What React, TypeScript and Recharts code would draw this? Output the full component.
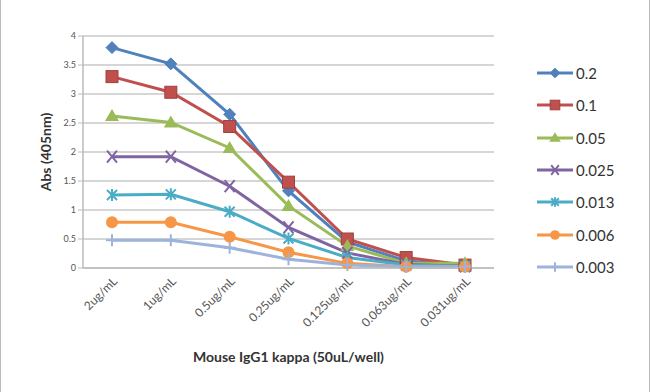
import React from 'react';
import { LineChart, Line, XAxis, YAxis, CartesianGrid } from 'recharts';

const categories = ['2ug/mL', '1ug/mL', '0.5ug/mL', '0.25ug/mL', '0.125ug/mL', '0.063ug/mL', '0.031ug/mL'];
const s02 = [3.8, 3.52, 2.65, 1.33, 0.45, 0.12, 0.05];
const s01 = [3.3, 3.03, 2.44, 1.48, 0.5, 0.18, 0.05];
const s005 = [2.62, 2.51, 2.07, 1.07, 0.38, 0.08, 0.08];
const s0025 = [1.92, 1.92, 1.41, 0.7, 0.26, 0.06, 0.03];
const s0013 = [1.26, 1.27, 0.97, 0.51, 0.18, 0.05, 0.03];
const s0006 = [0.79, 0.79, 0.54, 0.27, 0.08, 0.02, 0.02];
const s0003 = [0.48, 0.48, 0.35, 0.15, 0.05, 0.02, 0.02];
const yTicks = [0, 0.5, 1, 1.5, 2, 2.5, 3, 3.5, 4];

const seriesList = [
  { key: '0.2', values: s02, color: '#4F81BD', marker: 'diamond' },
  { key: '0.1', values: s01, color: '#C0504D', marker: 'square' },
  { key: '0.05', values: s005, color: '#9BBB59', marker: 'triangle' },
  { key: '0.025', values: s0025, color: '#8064A2', marker: 'x' },
  { key: '0.013', values: s0013, color: '#4BACC6', marker: 'star' },
  { key: '0.006', values: s0006, color: '#F79646', marker: 'circle' },
  { key: '0.003', values: s0003, color: '#9DB3DC', marker: 'plus' },
];

const data = categories.map((c, i) => {
  const row: any = { name: c };
  seriesList.forEach(s => { row[s.key] = s.values[i]; });
  return row;
});

const drawMarker = (marker: string, color: string, cx: number, cy: number, key?: any, k = 1) => {
  const a = 6 * k;
  switch (marker) {
    case 'diamond':
      return <path key={key} d={`M${cx},${cy - a}L${cx + a},${cy}L${cx},${cy + a}L${cx - a},${cy}Z`} fill={color} stroke={color} />;
    case 'square':
      return <rect key={key} x={cx - a} y={cy - a} width={2 * a} height={2 * a} fill={color} stroke="#A0403D" />;
    case 'triangle':
      return <path key={key} d={`M${cx},${cy - a - 1}L${cx + a + 1},${cy + a - 1}L${cx - a - 1},${cy + a - 1}Z`} fill={color} />;
    case 'x':
      return <path key={key} d={`M${cx - a + 1},${cy - a}L${cx + a - 1},${cy + a}M${cx + a - 1},${cy - a}L${cx - a + 1},${cy + a}`} stroke={color} strokeWidth={2} fill="none" />;
    case 'star':
      return <path key={key} d={`M${cx - a + 1},${cy - a + 1}L${cx + a - 1},${cy + a - 1}M${cx + a - 1},${cy - a + 1}L${cx - a + 1},${cy + a - 1}M${cx},${cy - a}L${cx},${cy + a}`} stroke={color} strokeWidth={2} fill="none" />;
    case 'circle':
      return <circle key={key} cx={cx} cy={cy} r={a} fill={color} />;
    case 'plus':
      return <path key={key} d={`M${cx},${cy - a}L${cx},${cy + a}M${cx - a},${cy}L${cx + a},${cy}`} stroke={color} strokeWidth={2} fill="none" />;
    default:
      return null;
  }
};

const font = 'Lato, "Open Sans", sans-serif';

export default function App() {
  return (
    <div style={{ position: 'absolute', left: 0, top: 0, width: 650, height: 392, background: '#fff', borderLeft: '1px solid #bbb', borderRight: '1px solid #bbb', boxSizing: 'border-box' }}>
      <LineChart width={648} height={392} data={data} margin={{ top: 36, right: 155, bottom: 24, left: 42 }}>
        <CartesianGrid vertical={false} stroke="#C8C8C8" strokeWidth={1.5} />
        <XAxis
          dataKey="name"
          interval={0}
          padding={{ left: 29, right: 29 }}
          height={100}
          angle={-45}
          textAnchor="end"
          tick={{ fontSize: 12, fill: '#555', fontFamily: font }}
          tickLine={false}
          axisLine={{ stroke: '#BBB', strokeWidth: 1.5 }}
          label={{ value: 'Mouse IgG1 kappa (50uL/well)', position: 'insideBottom', offset: 6, style: { fontSize: 14, fontWeight: 'bold', fill: '#333', fontFamily: font } }}
        />
        <YAxis
          domain={[0, 4]}
          ticks={yTicks}
          width={40}
          tickSize={5}
          tick={{ fontSize: 9, fill: '#555', fontFamily: font }}
          tickLine={{ stroke: '#BBB' }}
          axisLine={{ stroke: '#BBB', strokeWidth: 1.5 }}
          label={{ value: 'Abs (405nm)', angle: -90, position: 'insideLeft', offset: 3, style: { textAnchor: 'middle', fontSize: 14, fontWeight: 'bold', fill: '#333', fontFamily: font } }}
        />
        {seriesList.map(s => (
          <Line
            key={s.key}
            dataKey={s.key}
            stroke={s.color}
            strokeWidth={3}
            isAnimationActive={false}
            dot={(p: any) => drawMarker(s.marker, s.color, p.cx, p.cy, p.index)}
            activeDot={false}
          />
        ))}
      </LineChart>
      <div style={{ position: 'absolute', left: 534, top: 57, fontFamily: font, fontSize: 15, color: '#333' }}>
        {seriesList.map(s => (
          <div key={s.key} style={{ display: 'flex', alignItems: 'center', height: 32.3 }}>
            <svg width={40} height={16}>
              <line x1={2} y1={8} x2={38} y2={8} stroke={s.color} strokeWidth={3} />
              {drawMarker(s.marker, s.color, 20, 8, undefined, 0.8)}
            </svg>
            <span style={{ marginLeft: 1 }}>{s.key}</span>
          </div>
        ))}
      </div>
    </div>
  );
}
